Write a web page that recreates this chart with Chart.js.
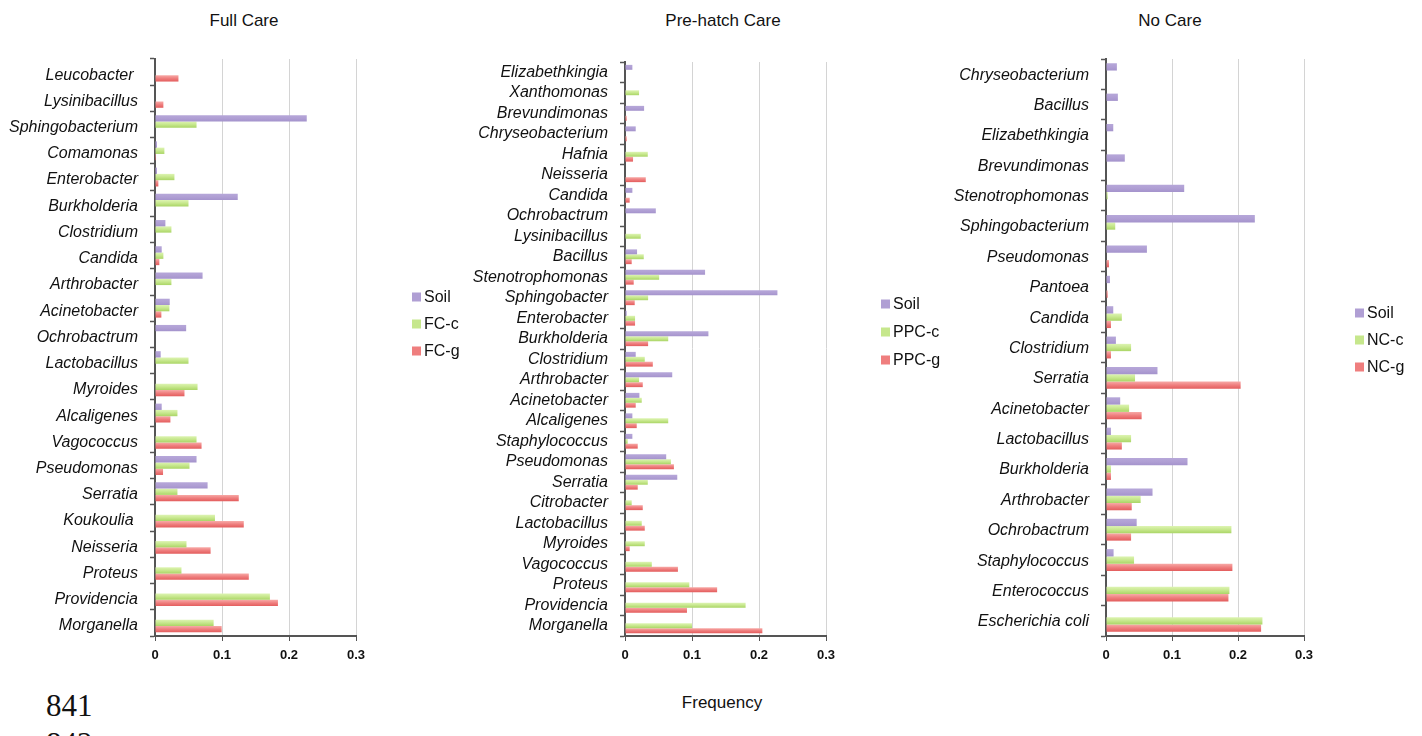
<!DOCTYPE html>
<html>
<head>
<meta charset="utf-8">
<script src="https://cdn.jsdelivr.net/npm/chart.js@4.4.0/dist/chart.umd.min.js"></script>
<style>
  body { margin: 0; background: #fff; overflow: hidden; }
  #page { position: relative; width: 1422px; height: 736px; font-family: "Liberation Sans", Arial, sans-serif; overflow: hidden; }
  canvas { position: absolute; top: 0; }
  .ttl { position: absolute; font-size: 17px; color: #111; transform: translateX(-50%); white-space: nowrap; }
  .ln { position: absolute; font-family: "Liberation Serif", serif; font-size: 31px; color: #111; }
</style>
</head>
<body>
<div id="page">
  <div class="ttl" style="left:244px; top:11px">Full Care</div>
  <div class="ttl" style="left:723px; top:11px">Pre-hatch Care</div>
  <div class="ttl" style="left:1170px; top:11px">No Care</div>
  <canvas id="fc" style="left:0px" width="470" height="680"></canvas>
  <canvas id="ph" style="left:470px" width="480" height="680"></canvas>
  <canvas id="nc" style="left:950px" width="472" height="680"></canvas>
  <div class="ttl" style="left:722px; top:693px">Frequency</div>
  <div class="ln" style="left:46px; top:688px">841</div>
  <div class="ln" style="left:46px; top:726px">842</div>
</div>
<script>
// shared
var seriesNames = ['Soil', '-c', '-g'];
var xTickLabels = ['0', '0.1', '0.2', '0.3'];

// Full Care
var fcLabels = ['Leucobacter ', 'Lysinibacillus', 'Sphingobacterium', 'Comamonas', 'Enterobacter', 'Burkholderia', 'Clostridium', 'Candida', 'Arthrobacter', 'Acinetobacter', 'Ochrobactrum', 'Lactobacillus', 'Myroides', 'Alcaligenes', 'Vagococcus', 'Pseudomonas', 'Serratia', 'Koukoulia ', 'Neisseria', 'Proteus', 'Providencia', 'Morganella'];
var fcSoil = [0, 0, 0.2265, 0.003, 0.003, 0.1235, 0.0155, 0.01, 0.071, 0.022, 0.0465, 0.0085, 0, 0.01, 0, 0.062, 0.0785, 0, 0, 0, 0, 0];
var fcC = [0, 0, 0.062, 0.014, 0.029, 0.05, 0.0245, 0.0125, 0.0245, 0.0215, 0, 0.05, 0.0635, 0.0335, 0.062, 0.0515, 0.0335, 0.0895, 0.047, 0.0395, 0.1715, 0.0875];
var fcG = [0.035, 0.0125, 0, 0.0015, 0.005, 0, 0, 0.0065, 0, 0.0095, 0, 0, 0.044, 0.023, 0.0695, 0.012, 0.125, 0.1325, 0.083, 0.14, 0.1835, 0.0995];

// Pre-hatch Care
var phLabels = ['Elizabethkingia', 'Xanthomonas', 'Brevundimonas', 'Chryseobacterium', 'Hafnia', 'Neisseria', 'Candida', 'Ochrobactrum', 'Lysinibacillus', 'Bacillus', 'Stenotrophomonas', 'Sphingobacter', 'Enterobacter', 'Burkholderia', 'Clostridium', 'Arthrobacter', 'Acinetobacter', 'Alcaligenes', 'Staphylococcus', 'Pseudomonas', 'Serratia', 'Citrobacter', 'Lactobacillus', 'Myroides', 'Vagococcus', 'Proteus', 'Providencia', 'Morganella'];
var phSoil = [0.011, 0, 0.0285, 0.016, 0, 0, 0.011, 0.046, 0, 0.018, 0.1195, 0.2275, 0.0025, 0.1245, 0.016, 0.0705, 0.0215, 0.011, 0.011, 0.0615, 0.078, 0, 0, 0, 0, 0, 0, 0];
var phC = [0, 0.021, 0, 0, 0.034, 0, 0, 0, 0.0235, 0.028, 0.051, 0.0345, 0.015, 0.0645, 0.0295, 0.021, 0.025, 0.0645, 0.004, 0.0685, 0.034, 0.01, 0.025, 0.0295, 0.04, 0.096, 0.18, 0.1];
var phG = [0, 0, 0.0025, 0.0025, 0.012, 0.031, 0.007, 0, 0, 0.01, 0.013, 0.0145, 0.015, 0.0345, 0.0415, 0.0265, 0.016, 0.0175, 0.019, 0.073, 0.019, 0.0265, 0.0295, 0.007, 0.079, 0.1375, 0.0925, 0.205];

// No Care
var ncLabels = ['Chryseobacterium', 'Bacillus', 'Elizabethkingia', 'Brevundimonas', 'Stenotrophomonas', 'Sphingobacterium', 'Pseudomonas', 'Pantoea', 'Candida', 'Clostridium', 'Serratia', 'Acinetobacter', 'Lactobacillus', 'Burkholderia', 'Arthrobacter', 'Ochrobactrum', 'Staphylococcus', 'Enterococcus', 'Escherichia coli'];
var ncSoil = [0.0165, 0.018, 0.011, 0.0285, 0.1185, 0.2255, 0.062, 0.006, 0.011, 0.015, 0.078, 0.0215, 0.0075, 0.1235, 0.0705, 0.0465, 0.0115, 0, 0];
var ncC = [0, 0, 0, 0, 0.0025, 0.014, 0, 0, 0.024, 0.038, 0.044, 0.035, 0.038, 0.0075, 0.0525, 0.19, 0.0425, 0.187, 0.237];
var ncG = [0, 0, 0, 0, 0, 0, 0.0045, 0.0025, 0.0075, 0.0075, 0.204, 0.054, 0.024, 0.0075, 0.039, 0.038, 0.1915, 0.1855, 0.235];

var colSoil = ['#b09fd4', '#b6a7d9', '#a493cc'];
var colC = ['#c6e78c', '#ddf4b2', '#aad566'];
var colG = ['#ef7e7e', '#f7aaa7', '#e35d5d'];

var catPct = 0.72;

// excel-ish shading: lighter at top of each bar, darker at bottom
function shade(cols) {
  return function(ctx) {
    var chart = ctx.chart, y = chart.scales.y;
    if (ctx.type !== 'data' || !y || y.top === undefined) return cols[0];
    var band = (y.bottom - y.top) / chart.data.labels.length;
    var bw = band * catPct / 3;
    var c = y.getPixelForValue(ctx.dataIndex) + (ctx.datasetIndex - 1) * bw;
    if (!isFinite(c)) return cols[0];
    var g = chart.ctx.createLinearGradient(0, c - bw / 2, 0, c + bw / 2);
    g.addColorStop(0, cols[1]);
    g.addColorStop(0.5, cols[0]);
    g.addColorStop(1, cols[2]);
    return g;
  };
}

// legend drawn beside the plot
var sideLegend = {
  id: 'sideLegend',
  afterDraw: function(chart, args, opts) {
    var ctx = chart.ctx;
    ctx.save();
    ctx.font = '16px "Liberation Sans", Arial, sans-serif';
    ctx.textBaseline = 'middle';
    chart.data.datasets.forEach(function(ds, i) {
      var y = opts.y + i * opts.gap;
      ctx.fillStyle = ds.legendColor;
      ctx.fillRect(opts.x, y - 4.5, 9, 9);
      ctx.fillStyle = '#111';
      ctx.fillText(ds.label, opts.x + 12, y + 1);
    });
    ctx.restore();
  }
};

function makeChart(id, labels, soil, c, g, prefix, box) {
  return new Chart(document.getElementById(id), {
    type: 'bar',
    data: {
      labels: labels,
      datasets: [
        { label: seriesNames[0], data: soil, backgroundColor: shade(colSoil), legendColor: colSoil[0] },
        { label: prefix + seriesNames[1], data: c, backgroundColor: shade(colC), legendColor: colC[0] },
        { label: prefix + seriesNames[2], data: g, backgroundColor: shade(colG), legendColor: colG[0] }
      ]
    },
    options: {
      indexAxis: 'y',
      responsive: false,
      animation: false,
      datasets: { bar: { categoryPercentage: catPct, barPercentage: 1.0, borderWidth: 0 } },
      layout: { padding: { top: box.top, right: box.right, bottom: 4, left: 0 } },
      plugins: {
        legend: { display: false },
        tooltip: { enabled: false },
        sideLegend: { x: box.lx, y: box.ly, gap: box.lgap }
      },
      scales: {
        x: {
          min: 0, max: 0.3,
          ticks: {
            stepSize: 0.1, padding: 7, color: '#111',
            font: { family: '"Liberation Sans", Arial, sans-serif', size: 13, weight: 'bold' },
            callback: function(v, i) { return xTickLabels[i]; }
          },
          grid: { color: '#d4d4d4', lineWidth: 1, tickColor: '#555', tickLength: 5 },
          border: { color: '#555', width: 2 },
          afterFit: function(s) { s.height = 40; }
        },
        y: {
          ticks: {
            padding: 12, color: '#111', autoSkip: false, labelOffset: box.lo,
            font: { family: '"Liberation Sans", Arial, sans-serif', size: 16, style: 'italic' }
          },
          grid: { drawOnChartArea: false, tickColor: '#555', tickLength: 5, tickWidth: 1.5 },
          border: { color: '#555', width: 2 },
          afterFit: function(s) { s.width = box.yw; }
        }
      }
    },
    plugins: [sideLegend]
  });
}

makeChart('fc', fcLabels, fcSoil, fcC, fcG, 'FC', { top: 59, right: 114, yw: 155, lx: 412, ly: 297, lgap: 27, lo: 3 });
makeChart('ph', phLabels, phSoil, phC, phG, 'PPC', { top: 62, right: 124, yw: 155, lx: 411, ly: 304, lgap: 28, lo: 0 });
makeChart('nc', ncLabels, ncSoil, ncC, ncG, 'NC', { top: 59, right: 118, yw: 156, lx: 405, ly: 313, lgap: 27, lo: 1 });
</script>
</body>
</html>
